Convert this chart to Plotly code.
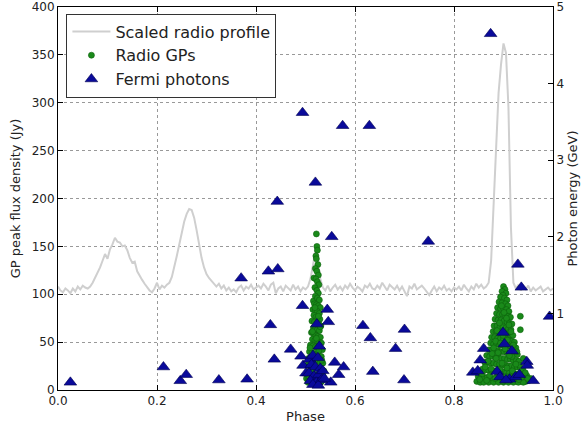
import numpy as np
import plotly.graph_objects as go

# ---- Scaled radio profile (Jy-scaled), phase bins of 0.005 ----
profile_phase = np.linspace(0.0, 1.0, 201)
profile_vals = [
    108, 104, 102, 106, 104, 101, 106, 103, 108, 105, 109, 107, 106, 108, 112, 117, 122, 128, 135, 142,
    137, 147, 152, 159, 155, 154, 150, 151, 146, 138, 133, 134, 124, 119, 115, 111, 107, 104, 102, 106,
    112, 105, 109, 107, 110, 112, 118, 128, 140, 152, 165, 176, 184, 189, 188, 180, 167, 152, 138, 128,
    121, 117, 114, 110, 108, 111, 106, 109, 104, 107, 103, 105, 102, 107, 109, 104, 108, 106, 110, 105,
    107, 109, 106, 111, 108, 104, 110, 112, 101, 106, 108, 103, 109, 106, 104, 110, 105, 108, 103, 107,
    105, 108, 116, 130, 145, 134, 116, 107, 104, 109, 103, 107, 110, 105, 108, 104, 109, 106, 111, 107,
    104, 108, 106, 103, 109, 107, 111, 106, 105, 109, 106, 112, 108, 104, 110, 107, 105, 109, 104, 108,
    103, 98, 108, 106, 111, 105, 107, 109, 106, 103, 99, 104, 108, 103, 107, 105, 109, 104, 106, 103,
    107, 105, 108, 104, 110, 106, 103, 108, 105, 111, 107, 110, 106, 108, 112, 135, 195, 255, 310, 340,
    362, 352, 295, 170, 112, 106, 110, 104, 108, 105, 109, 103, 107, 104, 106, 108, 103, 105, 107, 104,
    106,
]

# ---- Radio giant pulses: phase and peak flux density (Jy) ----
gp_phase = [
    # interpulse cluster
    0.522, 0.523, 0.524, 0.521, 0.522, 0.525, 0.520, 0.523, 0.526, 0.517, 0.521, 0.524, 0.527, 0.519, 0.523, 0.526,
    0.516, 0.520, 0.524, 0.528,
    0.518, 0.522, 0.526, 0.530, 0.515, 0.520, 0.524, 0.528, 0.517, 0.521, 0.525, 0.529, 0.513, 0.518, 0.523, 0.527,
    0.531, 0.516, 0.520, 0.524, 0.528, 0.512, 0.517, 0.521, 0.525, 0.530, 0.514, 0.519, 0.523, 0.527, 0.532,
    0.510, 0.515, 0.520, 0.524, 0.529, 0.534, 0.508, 0.513, 0.518, 0.522, 0.527, 0.532, 0.506, 0.511, 0.516, 0.521,
    0.525, 0.530, 0.535, 0.504, 0.509, 0.514, 0.519, 0.523, 0.528, 0.533, 0.537, 0.503, 0.507, 0.512, 0.517, 0.521,
    0.526, 0.531, 0.536, 0.502, 0.506, 0.511, 0.515, 0.520, 0.524, 0.529, 0.534, 0.538, 0.505, 0.513, 0.522, 0.531,
    0.519, 0.526, 0.514, 0.530, 0.509, 0.522, 0.517, 0.527, 0.512, 0.533, 0.521, 0.507,
    # main pulse cluster
    0.900, 0.903, 0.897, 0.905, 0.899, 0.894, 0.902, 0.907, 0.891, 0.897, 0.904, 0.909, 0.888, 0.894, 0.900, 0.906,
    0.911, 0.886, 0.892, 0.898, 0.903, 0.909, 0.914, 0.934,
    0.883, 0.889, 0.895, 0.901, 0.907, 0.912, 0.917, 0.881, 0.887, 0.893, 0.899, 0.905, 0.910, 0.915, 0.934, 0.879,
    0.885, 0.891, 0.897, 0.903, 0.909, 0.914, 0.919,
    0.876, 0.882, 0.888, 0.894, 0.900, 0.906, 0.912, 0.917, 0.922, 0.874, 0.880, 0.886, 0.892, 0.898, 0.904, 0.910,
    0.915, 0.920, 0.925, 0.871, 0.877, 0.883, 0.889, 0.895, 0.901, 0.907, 0.913, 0.918, 0.923, 0.928,
    0.866, 0.872, 0.878, 0.884, 0.890, 0.896, 0.902, 0.908, 0.914, 0.920, 0.926, 0.931, 0.940, 0.862, 0.868, 0.874,
    0.880, 0.886, 0.892, 0.898, 0.904, 0.910, 0.916, 0.922, 0.928, 0.934, 0.939, 0.858, 0.864, 0.870, 0.876, 0.882,
    0.888, 0.894, 0.900, 0.906, 0.912, 0.918, 0.924, 0.930, 0.936, 0.942, 0.947,
    0.849, 0.855, 0.861, 0.867, 0.873, 0.879, 0.885, 0.891, 0.897, 0.903, 0.909, 0.915, 0.921, 0.927, 0.933, 0.939,
    0.945, 0.951, 0.846, 0.853, 0.860, 0.870, 0.880, 0.890, 0.900, 0.910, 0.920, 0.930, 0.940, 0.955,
    0.896, 0.901, 0.892, 0.906, 0.887, 0.911, 0.884, 0.899, 0.915, 0.880, 0.894, 0.908, 0.920, 0.877, 0.889, 0.903,
    0.917, 0.927, 0.869, 0.885, 0.897, 0.912, 0.932, 0.863, 0.875, 0.893, 0.907, 0.925, 0.944, 0.857, 0.872, 0.888,
    0.905, 0.918, 0.936, 0.852, 0.866, 0.883, 0.899, 0.914, 0.931, 0.949,
]
gp_flux = [
    163, 150, 146, 140, 137, 131, 127, 124, 120, 117, 116, 113, 110, 107, 104, 101,
    93, 98, 96, 94,
    90, 89, 88, 86, 84, 83, 82, 80, 78, 76, 75, 74, 72, 71, 70, 69,
    67, 65, 64, 63, 62, 60, 58, 57, 56, 55, 53, 52, 51, 50, 49,
    47, 46, 45, 44, 43, 42, 40, 39, 38, 37, 36, 35, 33, 32, 31, 30,
    30, 29, 28, 26, 25, 24, 24, 23, 22, 21, 20, 18, 18, 17, 16, 16,
    15, 14, 14, 12, 11, 11, 10, 10, 9, 9, 10, 11, 8, 8, 8, 8,
    86, 77, 61, 66, 44, 54, 27, 41, 19, 31, 13, 14,
    108, 105, 103, 101, 99, 97, 96, 94, 92, 91, 90, 88, 86, 85, 85, 84,
    82, 80, 79, 79, 78, 77, 76, 77,
    74, 73, 73, 72, 71, 70, 69, 67, 67, 66, 66, 65, 64, 63, 63, 61,
    61, 60, 60, 59, 58, 57, 57,
    55, 55, 54, 54, 53, 53, 52, 51, 50, 49, 48, 48, 47, 47, 46, 46,
    45, 44, 44, 42, 42, 41, 41, 40, 40, 39, 39, 38, 38, 37,
    36, 35, 35, 34, 34, 33, 33, 32, 32, 31, 31, 30, 33, 29, 29, 28,
    28, 27, 27, 26, 26, 25, 25, 24, 24, 23, 22, 22, 21, 21, 20, 20,
    19, 19, 19, 18, 18, 17, 17, 16, 16, 15, 15,
    14, 14, 13, 13, 12, 12, 12, 11, 11, 11, 10, 10, 10, 9, 9, 9,
    9, 10, 9, 8, 8, 8, 8, 8, 8, 8, 8, 8, 8, 12,
    88, 81, 70, 75, 62, 68, 51, 57, 61, 44, 49, 52, 47, 38, 39, 43,
    35, 40, 30, 33, 28, 36, 26, 24, 22, 21, 23, 27, 18, 17, 15, 16,
    14, 20, 13, 11, 10, 12, 9, 13, 11, 12,
]

# ---- Fermi photons: phase and energy (GeV) ----
fermi_phase = [
    0.025, 0.213, 0.247, 0.259, 0.325, 0.382, 0.370, 0.425, 0.444, 0.443, 0.429, 0.437, 0.470,
    0.494, 0.575, 0.629, 0.520, 0.553, 0.748, 0.494, 0.544, 0.546, 0.523, 0.528, 0.491, 0.495,
    0.616, 0.700, 0.631, 0.682, 0.559, 0.577, 0.567, 0.636, 0.699, 0.551, 0.501,
    0.508, 0.515, 0.525, 0.512, 0.520, 0.530, 0.507, 0.517, 0.527, 0.535, 0.510, 0.522, 0.532,
    0.515, 0.526, 0.538,
    0.874, 0.929, 0.936, 0.993, 0.860, 0.853, 0.838, 0.848, 0.947, 0.948, 0.960, 0.899, 0.902,
    0.917, 0.887, 0.893, 0.912, 0.924, 0.932, 0.905,
]
fermi_energy = [
    0.10, 0.30, 0.12, 0.20, 0.13, 0.14, 1.46, 1.55, 1.58, 2.46, 0.85, 0.40, 0.53,
    3.62, 3.45, 3.45, 2.71, 2.00, 1.94, 1.10, 1.05, 0.89, 0.86, 0.57, 0.44, 0.32,
    0.84, 0.79, 0.68, 0.54, 0.36, 0.30, 0.20, 0.24, 0.13, 0.10, 0.22,
    0.40, 0.45, 0.42, 0.33, 0.30, 0.28, 0.22, 0.18, 0.20, 0.25, 0.12, 0.10, 0.13,
    0.07, 0.06, 0.15,
    4.65, 1.64, 1.34, 0.96, 0.54, 0.39, 0.23, 0.25, 0.37, 0.32, 0.12, 0.75, 0.60,
    0.51, 0.24, 0.17, 0.14, 0.17, 0.20, 0.13,
]

# ticks
x_ticks = [0.0, 0.2, 0.4, 0.6, 0.8, 1.0]
y_ticks = [0, 50, 100, 150, 200, 250, 300, 350, 400]
y2_ticks = [0, 1, 2, 3, 4, 5]

FONT = "DejaVu Sans"
fig = go.Figure()

fig.add_trace(go.Scatter(
    x=profile_phase, y=profile_vals, mode="lines", name="Scaled radio profile",
    line=dict(color="#cfcfcf", width=2), yaxis="y",
))
fig.add_trace(go.Scatter(
    x=gp_phase, y=gp_flux, mode="markers", name="Radio GPs",
    marker=dict(color="#1a8a1a", size=6, line=dict(color="#0b5f0b", width=0.6)), yaxis="y",
))
fig.add_trace(go.Scatter(
    x=fermi_phase, y=fermi_energy, mode="markers", name="Fermi photons",
    marker=dict(symbol="triangle-up", color="#0a0a9a", size=11, line=dict(color="#000050", width=0.6)),
    yaxis="y2",
))

axis_common = dict(
    showline=True, linecolor="black", linewidth=1, ticks="inside", ticklen=5, tickcolor="black",
    tickfont=dict(family=FONT, size=12, color="#222"), zeroline=False, automargin=False,
)

fig.update_layout(
    width=585, height=430,
    margin=dict(l=58, r=32, t=7, b=40, autoexpand=False),
    paper_bgcolor="white", plot_bgcolor="white",
    font=dict(family=FONT, size=12, color="#222"),
    showlegend=True,
    legend=dict(
        x=0.017, y=0.983, xanchor="left", yanchor="top",
        bgcolor="white", bordercolor="#333", borderwidth=1,
        font=dict(family=FONT, size=16, color="#222"),
        tracegroupgap=0, itemwidth=38,
    ),
    xaxis=dict(
        range=[0, 1], tickvals=x_ticks, ticktext=[f"{t:.1f}" for t in x_ticks],
        mirror="ticks", showgrid=True, gridcolor="#999", griddash="dot", gridwidth=1,
        title=dict(text="Phase", font=dict(family=FONT, size=13, color="#222"), standoff=4),
        **axis_common,
    ),
    yaxis=dict(
        range=[0, 400], tickvals=y_ticks,
        showgrid=True, gridcolor="#999", griddash="dot", gridwidth=1,
        title=dict(text="GP peak flux density (Jy)", font=dict(family=FONT, size=13, color="#222"), standoff=8),
        **axis_common,
    ),
    yaxis2=dict(
        range=[0, 5], tickvals=y2_ticks, overlaying="y", side="right", showgrid=False,
        title=dict(text="Photon energy (GeV)", font=dict(family=FONT, size=13, color="#222"), standoff=4),
        **axis_common,
    ),
)

fig.write_html("out.html", config={"displayModeBar": False},
               post_script="document.body.style.margin='0';")
